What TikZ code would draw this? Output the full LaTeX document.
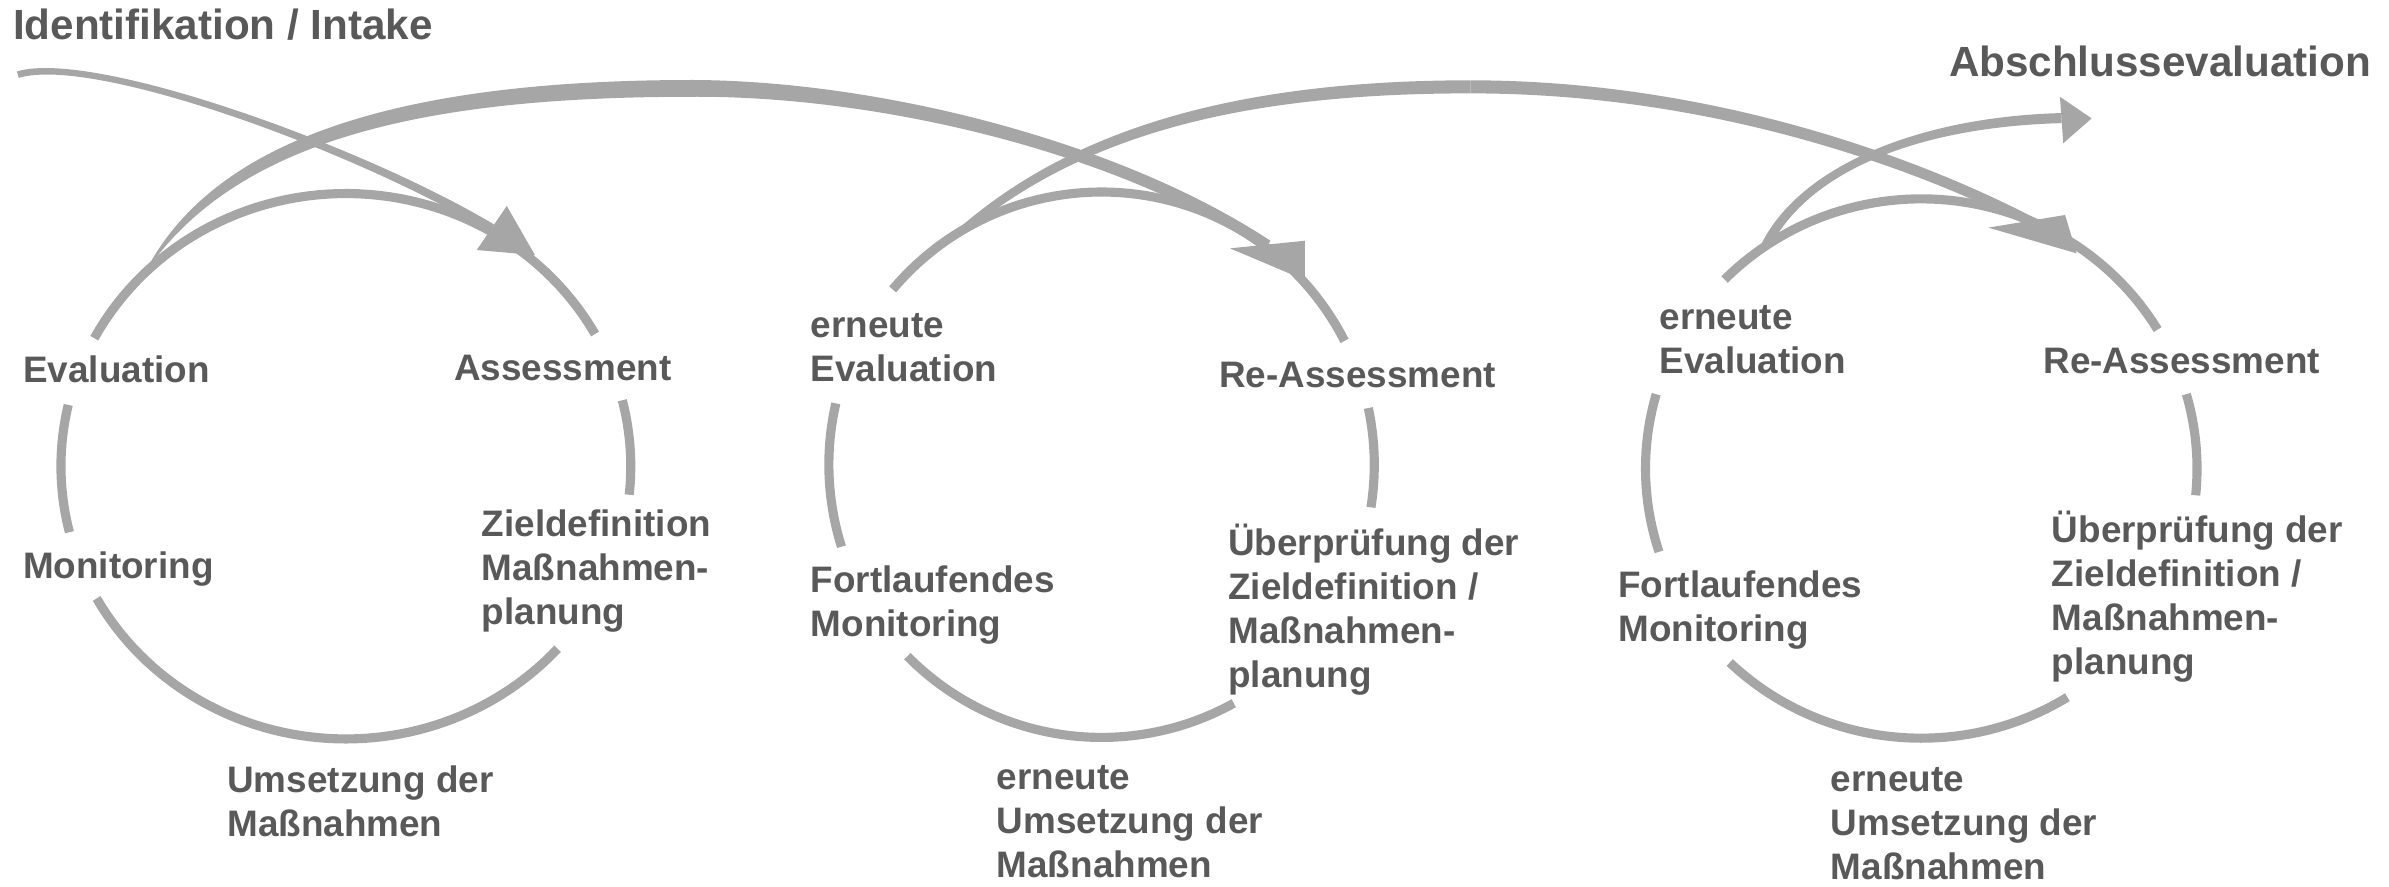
\documentclass[tikz,border=0pt]{standalone}
\usepackage{fontspec}
\setmainfont{Liberation Sans}
\usetikzlibrary{calc}
\definecolor{linegray}{HTML}{A6A6A6}
\definecolor{textgray}{HTML}{595959}
% tapered cubic band: #1..#4 control coordinates, #5..#8 half widths
\newcommand\tseg[8]{%
  \fill[linegray] ($(#1)!#5!90:(#2)$) .. controls ($(#2)!#6!-90:(#1)$) and ($(#3)!#7!90:(#4)$) .. ($(#4)!#8!-90:(#3)$)
    -- ($(#4)!#8!90:(#3)$) .. controls ($(#3)!#7!-90:(#4)$) and ($(#2)!#6!90:(#1)$) .. ($(#1)!#5!-90:(#2)$) -- cycle;}
\tikzset{
  lbl/.style={anchor=base west, inner sep=0pt, align=left, text=textgray, font=\fontsize{24.2}{29}\selectfont\bfseries},
  ttl/.style={anchor=base west, inner sep=0pt, text=textgray, font=\fontsize{27.7}{33}\selectfont\bfseries},
  ring/.style={draw=linegray, line width=6pt},
  head/.style={fill=linegray}
}
\begin{document}
\begin{tikzpicture}[x=1pt,y=-1pt]
\useasboundingbox (0,0) rectangle (1568,582);
% ---- cycle 1
\draw[ring] plot[domain=152:29,samples=60] ({227+187*cos(\x)},{306-179*sin(\x)});
\draw[ring] plot[domain=167:194,samples=20] ({227+187*cos(\x)},{306-179*sin(\x)});
\draw[ring] plot[domain=209:318,samples=60] ({227+187*cos(\x)},{306-179*sin(\x)});
\draw[ring] plot[domain=14:-6,samples=20] ({227+187*cos(\x)},{306-179*sin(\x)});
% ---- cycle 2
\draw[ring] plot[domain=140:27,samples=60] ({723+179*cos(\x)},{305-179*sin(\x)});
\draw[ring] plot[domain=167:197.5,samples=20] ({723+179*cos(\x)},{305-179*sin(\x)});
\draw[ring] plot[domain=224.6:299,samples=60] ({723+179*cos(\x)},{305-179*sin(\x)});
\draw[ring] plot[domain=12:-9,samples=20] ({723+179*cos(\x)},{305-179*sin(\x)});
% ---- cycle 3
\draw[ring] plot[domain=135.5:31,samples=60] ({1261+181*cos(\x)},{307.5-177*sin(\x)});
\draw[ring] plot[domain=164:198,samples=20] ({1261+181*cos(\x)},{307.5-177*sin(\x)});
\draw[ring] plot[domain=226:302,samples=60] ({1261+181*cos(\x)},{307.5-177*sin(\x)});
\draw[ring] plot[domain=16:-5.7,samples=20] ({1261+181*cos(\x)},{307.5-177*sin(\x)});
% ---- intake arrow
\coordinate (i0) at (11.7,49);
\coordinate (i1) at (61.7,34);
\coordinate (i2) at (237.1,98.2);
\coordinate (i3) at (322.8,149.7);
\tseg{i0}{i1}{i2}{i3}{2.2pt}{2.3pt}{2.6pt}{2.8pt}
\coordinate (h1a) at (332.6,135.2);
\coordinate (h1b) at (312.9,164.1);
\coordinate (h1t) at (351.1,167.4);
\fill[head] (h1a) -- (h1t) -- (h1b) -- cycle;
% ---- big arc 1 (cycle 1 -> Re-Assessment 2)
\coordinate (a0) at (97,176);
\coordinate (a1) at (155,82);
\coordinate (a2) at (295,58);
\coordinate (a3) at (455,58);
\coordinate (b1) at (575,58);
\coordinate (b2) at (731,95);
\coordinate (b3) at (832,161);
\tseg{a0}{a1}{a2}{a3}{0.3pt}{7pt}{5.5pt}{5.5pt}
\tseg{a3}{b1}{b2}{b3}{5.5pt}{5pt}{4pt}{3.5pt}
\coordinate (h2a) at (807.3,163);
\coordinate (h2b) at (856.5,158);
\coordinate (h2t) at (856.5,183.8);
\fill[head] (h2a) -- (h2b) -- (h2t) -- cycle;
% ---- big arc 2 (cycle 2 -> Re-Assessment 3)
\coordinate (c0) at (633,150);
\coordinate (c1) at (709.6,85.7);
\coordinate (c2) at (815,57);
\coordinate (c3) at (965,57);
\coordinate (d1) at (1135,57);
\coordinate (d2) at (1272,114);
\coordinate (d3) at (1334,146);
\tseg{c0}{c1}{c2}{c3}{2.5pt}{3.5pt}{4.2pt}{4.3pt}
\tseg{c3}{d1}{d2}{d3}{4.3pt}{4.2pt}{3.6pt}{3.2pt}
\coordinate (h3a) at (1305,149.4);
\coordinate (h3b) at (1355.4,141.1);
\coordinate (h3t) at (1363,166.3);
\fill[head] (h3a) -- (h3b) -- (h3t) -- cycle;
% ---- final arrow
\coordinate (e0) at (1159,161);
\coordinate (e1) at (1185,110);
\coordinate (e2) at (1260,80);
\coordinate (e3) at (1353,77.5);
\tseg{e0}{e1}{e2}{e3}{3pt}{3.2pt}{3.3pt}{3.3pt}
\coordinate (h4a) at (1352,63.5);
\coordinate (h4b) at (1354.2,94);
\coordinate (h4t) at (1372.8,77.7);
\fill[head] (h4a) -- (h4t) -- (h4b) -- cycle;
% ---- titles
\node[ttl] (intake) at (8.4,25.8) {Identifikation / Intake};
\node[ttl] (absch) at (1279,50) {Abschlussevaluation};
% ---- labels cycle 1 (anchor = baseline of last line)
\node[lbl] (ev1) at (15,251) {Evaluation};
\node[lbl] (as1) at (298,249.5) {Assessment};
\node[lbl] (mo1) at (15,380) {Monitoring};
\node[lbl] (zd1) at (316,410) {Zieldefinition\\Maßnahmen-\\planung};
\node[lbl] (um1) at (149,549) {Umsetzung der\\Maßnahmen};
% ---- labels cycle 2
\node[lbl] (ev2) at (532,250.5) {erneute\\Evaluation};
\node[lbl] (as2) at (800,254) {Re-Assessment};
\node[lbl] (mo2) at (532,418) {Fortlaufendes\\Monitoring};
\node[lbl] (zd2) at (806,451.5) {Überprüfung der\\Zieldefinition /\\Maßnahmen-\\planung};
\node[lbl] (um2) at (654,576) {erneute\\Umsetzung der\\Maßnahmen};
% ---- labels cycle 3
\node[lbl] (ev3) at (1089,245) {erneute\\Evaluation};
\node[lbl] (as3) at (1341,245) {Re-Assessment};
\node[lbl] (mo3) at (1062,421) {Fortlaufendes\\Monitoring};
\node[lbl] (zd3) at (1346.5,443) {Überprüfung der\\Zieldefinition /\\Maßnahmen-\\planung};
\node[lbl] (um3) at (1201.5,577.5) {erneute\\Umsetzung der\\Maßnahmen};
\end{tikzpicture}
\end{document}
